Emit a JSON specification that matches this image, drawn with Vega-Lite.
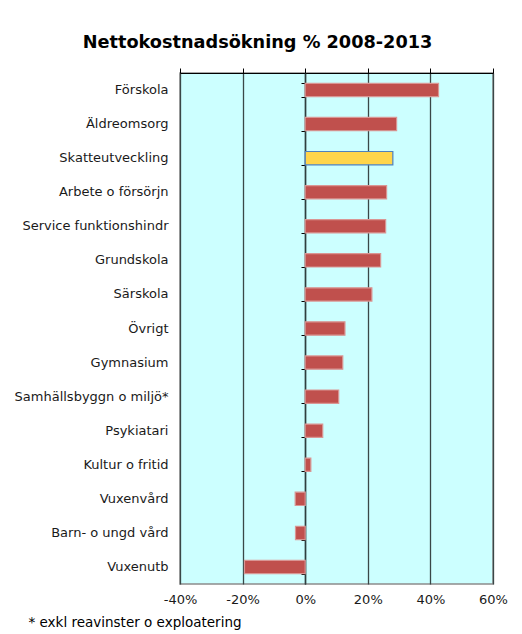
{
  "$schema": "https://vega.github.io/schema/vega-lite/v6.json",
  "width": 313,
  "height": 511,
  "autosize": {"type": "none"},
  "padding": {"left": 180, "top": 73, "right": 29, "bottom": 50},
  "background": "white",
  "config": {
    "view": {"fill": "#ccffff", "stroke": "#8c8c8c", "strokeWidth": 1.5},
    "font": "DejaVu Sans",
    "locale": {
      "number": {"decimal": ".", "thousands": ",", "grouping": [3], "currency": ["", ""], "minus": "-", "percent": "%"}
    }
  },
  "title": {
    "text": "Nettokostnadsökning % 2008-2013",
    "font": "DejaVu Sans",
    "fontSize": 17.7,
    "fontWeight": "bold",
    "color": "#000000",
    "anchor": "middle",
    "dx": -79,
    "offset": 16
  },
  "data": {
    "values": [
      {"kategori": "Förskola", "varde": 0.426, "typ": "kostnad"},
      {"kategori": "Äldreomsorg", "varde": 0.292, "typ": "kostnad"},
      {"kategori": "Skatteutveckling", "varde": 0.280, "typ": "skatt"},
      {"kategori": "Arbete o försörjn", "varde": 0.260, "typ": "kostnad"},
      {"kategori": "Service funktionshindr", "varde": 0.257, "typ": "kostnad"},
      {"kategori": "Grundskola", "varde": 0.241, "typ": "kostnad"},
      {"kategori": "Särskola", "varde": 0.213, "typ": "kostnad"},
      {"kategori": "Övrigt", "varde": 0.127, "typ": "kostnad"},
      {"kategori": "Gymnasium", "varde": 0.120, "typ": "kostnad"},
      {"kategori": "Samhällsbyggn o miljö*", "varde": 0.107, "typ": "kostnad"},
      {"kategori": "Psykiatari", "varde": 0.056, "typ": "kostnad"},
      {"kategori": "Kultur o fritid", "varde": 0.018, "typ": "kostnad"},
      {"kategori": "Vuxenvård", "varde": -0.032, "typ": "kostnad"},
      {"kategori": "Barn- o ungd vård", "varde": -0.031, "typ": "kostnad"},
      {"kategori": "Vuxenutb", "varde": -0.194, "typ": "kostnad"}
    ]
  },
  "resolve": {"axis": {"x": "independent", "y": "independent"}},
  "layer": [
    {
      "mark": {"type": "bar", "opacity": 0},
      "encoding": {
        "y": {
          "field": "kategori",
          "type": "nominal",
          "sort": null,
          "scale": {"paddingInner": 0.61, "paddingOuter": 0.305},
          "axis": {
            "title": null,
            "orient": "left",
            "offset": -125,
            "labels": false,
            "ticks": true,
            "tickBand": "extent",
            "tickSize": 4,
            "tickColor": "#000000",
            "domain": true,
            "domainColor": "#2f3f3f",
            "domainWidth": 1.5,
            "grid": false
          }
        },
        "x": {
          "field": "varde",
          "type": "quantitative",
          "scale": {"domain": [-0.4, 0.6], "nice": false, "zero": false},
          "axis": {
            "title": null,
            "orient": "top",
            "values": [-0.4, -0.2, 0, 0.2, 0.4, 0.6],
            "labels": false,
            "ticks": true,
            "tickSize": 5,
            "tickColor": "#000000",
            "domain": true,
            "domainColor": "#000000",
            "domainWidth": 1.2,
            "grid": true,
            "gridColor": "#3a4747",
            "gridWidth": 1.3,
            "gridOpacity": 1
          }
        }
      }
    },
    {
      "mark": {"type": "bar", "strokeWidth": 1.2},
      "encoding": {
        "y": {
          "field": "kategori",
          "type": "nominal",
          "sort": null,
          "axis": {
            "title": null,
            "orient": "left",
            "labelFont": "DejaVu Sans",
            "labelFontSize": 13,
            "labelColor": "#1a1a1a",
            "labelPadding": 12,
            "labelLimit": 200,
            "ticks": false,
            "domain": false,
            "grid": false
          }
        },
        "x": {
          "field": "varde",
          "type": "quantitative",
          "axis": {
            "orient": "bottom",
            "values": [-0.4, -0.2, 0, 0.2, 0.4, 0.6],
            "format": ".0%",
            "labelFont": "DejaVu Sans",
            "labelFontSize": 13,
            "labelColor": "#1a1a1a",
            "labelPadding": 9,
            "labelFlush": false,
            "labelOverlap": false,
            "ticks": false,
            "domain": false,
            "grid": false,
            "title": "* exkl reavinster o exploatering",
            "titleFont": "DejaVu Sans",
            "titleFontSize": 13.5,
            "titleFontWeight": "normal",
            "titleColor": "#000000",
            "titleAlign": "left",
            "titleBaseline": "alphabetic",
            "titleX": -152,
            "titleY": 42
          }
        },
        "fill": {
          "field": "typ",
          "type": "nominal",
          "scale": {"domain": ["kostnad", "skatt"], "range": ["#c0504d", "#ffd54a"]},
          "legend": null
        },
        "stroke": {
          "field": "typ",
          "type": "nominal",
          "scale": {"domain": ["kostnad", "skatt"], "range": ["#d99694", "#4f81bd"]},
          "legend": null
        }
      }
    }
  ]
}
